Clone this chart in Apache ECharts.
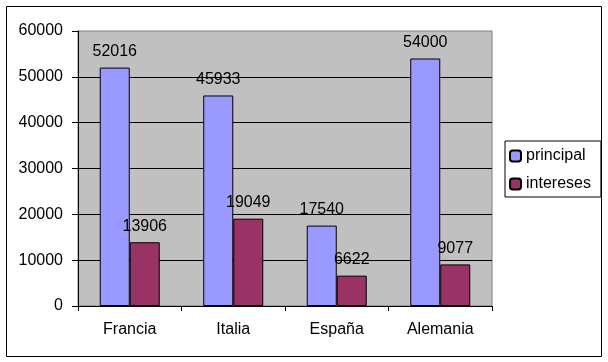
<!DOCTYPE html>
<html>
<head>
<meta charset="utf-8">
<script src="https://cdn.jsdelivr.net/npm/echarts@6/dist/echarts.min.js"></script>
<style>html,body{margin:0;padding:0;background:#fff;}#c{width:608px;height:362px;}</style>
</head>
<body>
<div id="c"></div>
<script>
const categories = ['Francia', 'Italia', 'España', 'Alemania'];
const principal = [52016, 45933, 17540, 54000];
const intereses = [13906, 19049, 6622, 9077];
const seriesNames = ['principal', 'intereses'];

const font = 'Liberation Sans, Arial, sans-serif';
const chart = echarts.init(document.getElementById('c'), null, {renderer: 'canvas'});
const lbl = {show: true, position: 'top', distance: 8, color: '#000', fontFamily: font, fontSize: 16};
chart.setOption({
  animation: false,
  backgroundColor: '#fff',
  textStyle: {fontFamily: font},
  graphic: [{
    type: 'rect', shape: {x: 6.5, y: 6.5, width: 595, height: 350},
    style: {fill: 'none', stroke: '#000', lineWidth: 1}, z: 100
  }],
  grid: {left: 78, right: 116, top: 31, bottom: 56, show: true,
         backgroundColor: '#c0c0c0', borderColor: '#808080', borderWidth: 1},
  legend: {
    orient: 'vertical', left: 505, top: 141,
    width: 92,
    padding: [7, 10, 5, 4],
    backgroundColor: '#fff', borderColor: '#000', borderWidth: 1,
    itemWidth: 11, itemHeight: 11, itemGap: 12,
    textStyle: {fontFamily: font, fontSize: 16, color: '#000'},
    data: seriesNames
  },
  xAxis: {
    type: 'category', data: categories,
    axisLine: {lineStyle: {color: '#000', width: 1}},
    axisTick: {show: true, length: 5, lineStyle: {color: '#000'}},
    axisLabel: {color: '#000', fontSize: 16, fontFamily: font, margin: 16},
    splitLine: {show: false}
  },
  yAxis: {
    type: 'value', min: 0, max: 60000, interval: 10000,
    axisLine: {show: true, lineStyle: {color: '#000', width: 1}},
    axisTick: {show: true, length: 6, lineStyle: {color: '#000'}},
    axisLabel: {color: '#000', fontSize: 16, fontFamily: font, margin: 15,
                formatter: function (v) { return String(v); }},
    splitLine: {show: true, showMinLine: false, showMaxLine: false, lineStyle: {color: '#000', width: 1}}
  },
  series: [
    {name: seriesNames[0], type: 'bar', data: principal, barGap: '0%', barCategoryGap: '42%',
     itemStyle: {color: '#9999ff', borderColor: '#000', borderWidth: 1}, label: lbl},
    {name: seriesNames[1], type: 'bar', data: intereses, barGap: '0%', barCategoryGap: '42%',
     itemStyle: {color: '#993366', borderColor: '#000', borderWidth: 1}, label: lbl}
  ]
});
</script>
</body>
</html>
